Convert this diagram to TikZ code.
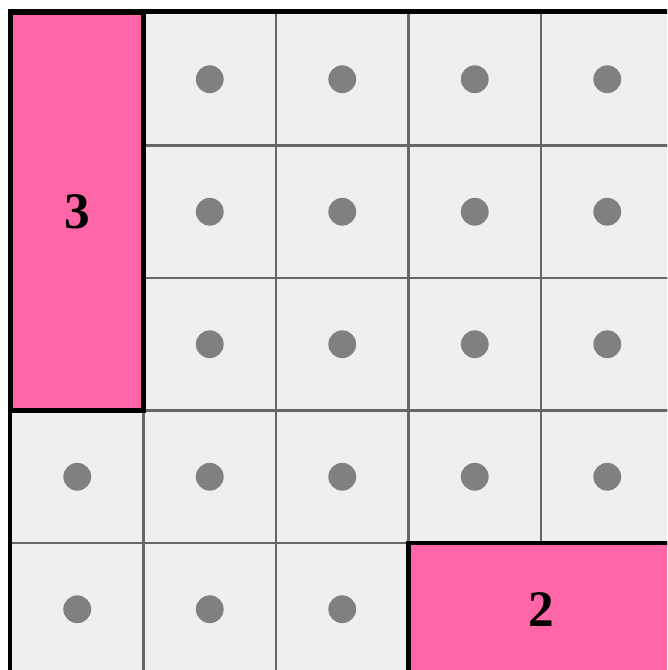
\documentclass[tikz,border=0pt]{standalone}
\usepackage{fontspec}
\setmainfont{Liberation Serif}
\definecolor{rose}{HTML}{FF66A8}
\definecolor{fond}{HTML}{EFEFEF}
\definecolor{trait}{HTML}{666666}
\definecolor{pion}{HTML}{808080}
\begin{document}
\begin{tikzpicture}[
  case/.style={draw=trait, line width=1pt, fill=fond, minimum size=2cm, inner sep=0pt},
  bloc/.style={draw=black, line width=2pt, fill=rose, inner sep=0pt, font=\bfseries\fontsize{22}{26}\selectfont},
  pionrond/.style={circle, fill=pion, minimum size=0.42cm, inner sep=0pt}
]

% Cadre
\useasboundingbox (-0.166,0.196) rectangle (9.902,-9.917);
\clip (-0.166,0.196) rectangle (9.902,-9.917);

% Grille
\foreach \i in {0,...,4}
  \foreach \j in {0,...,4} {
    \node[case] (c\i\j) at (2*\i+1,-2*\j-1) {};
  }

% Pions
\foreach \i in {0,...,4}
  \foreach \j in {0,...,4} {
    \pgfmathtruncatemacro\couvert{(\i==0 && \j<3) || (\i>2 && \j==4)}
    \ifnum\couvert=0
      \node[pionrond] (p\i\j) at (c\i\j) {};
    \fi
  }

% Bord
\draw[line width=2pt] (c00.north west) rectangle (c44.south east);

% Blocs
\node[bloc, minimum width=2cm, minimum height=6cm] (b3) at (1,-3) {3};
\node[bloc, minimum width=4cm, minimum height=2cm] (b2) at (8,-9) {2};

\end{tikzpicture}
\end{document}
